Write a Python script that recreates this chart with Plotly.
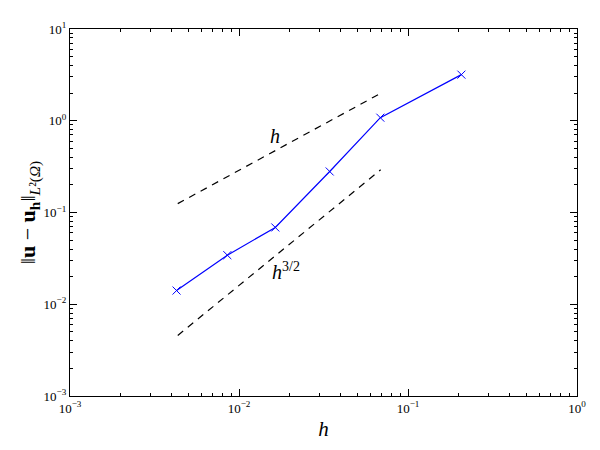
import plotly.graph_objects as go

# mesh size vs L2 error
h = [0.00427, 0.00853, 0.0164, 0.0344, 0.0686, 0.207]
err = [0.0141, 0.0343, 0.0687, 0.280, 1.08, 3.18]

# reference slopes
h_ref = [0.00434, 0.0689]
ref_h = [0.125, 1.99]
ref_h32 = [0.00457, 0.292]

decades_x = [-3, -2, -1, 0]
decades_y = [-3, -2, -1, 0, 1]

font = "Liberation Serif"


def sup_label(p):
    return "10<sup>%s</sup>" % str(p).replace("-", "\u2212")


fig = go.Figure()

fig.add_trace(go.Scatter(
    x=h_ref, y=ref_h, mode="lines",
    line=dict(color="black", width=1.2, dash="7px,6px"),
    showlegend=False, hoverinfo="skip"
))
fig.add_trace(go.Scatter(
    x=h_ref, y=ref_h32, mode="lines",
    line=dict(color="black", width=1.2, dash="7px,6px"),
    showlegend=False, hoverinfo="skip"
))
fig.add_trace(go.Scatter(
    x=h, y=err, mode="lines+markers",
    line=dict(color="blue", width=1.2),
    marker=dict(symbol="x-thin-open", size=8, line=dict(color="blue", width=1)),
    showlegend=False
))

fig.add_annotation(x=-1.788, y=-0.17, text="<i>h</i>", showarrow=False,
                   font=dict(family=font, size=20, color="black"))
fig.add_annotation(x=-1.72, y=-1.64, text="<i>h</i><sup>3/2</sup>", showarrow=False,
                   font=dict(family=font, size=20, color="black"))

axis_common = dict(
    type="log", showgrid=False, zeroline=False,
    showline=True, linecolor="black", linewidth=1.4, mirror="ticks",
    ticks="inside", ticklen=7, tickcolor="black",
    minor=dict(ticks="inside", ticklen=3, tickcolor="black", dtick="D1", showgrid=False),
    tickfont=dict(family=font, size=13, color="black"),
)

fig.update_xaxes(
    range=[-3, 0],
    tickvals=[10 ** p for p in decades_x],
    ticktext=[sup_label(p) for p in decades_x],
    title=dict(text="<i>h</i>", font=dict(family=font, size=21, color="black"), standoff=6),
    **axis_common
)
fig.update_yaxes(
    range=[-3, 1],
    tickvals=[10 ** p for p in decades_y],
    ticktext=[sup_label(p) for p in decades_y],
    title=dict(text="\u2016<b>u</b> \u2212 <b>u<sub>h</sub></b>\u2016<sub><i>L</i>\u00b2(<i>\u03a9</i>)</sub>",
               font=dict(family=font, size=22, color="black"), standoff=0),
    **axis_common
)

fig.update_layout(
    width=600, height=450,
    margin=dict(l=62, r=31, t=12, b=62),
    plot_bgcolor="white", paper_bgcolor="white",
)

fig.write_html("out.html")
